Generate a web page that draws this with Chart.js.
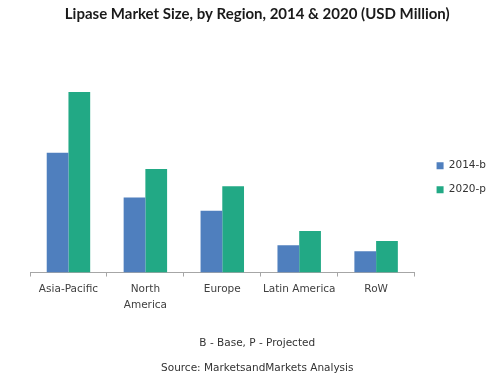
<!DOCTYPE html>
<html>
<head>
<meta charset="utf-8">
<script src="https://cdn.jsdelivr.net/npm/chart.js@4/dist/chart.umd.min.js"></script>
<style>
  html, body { margin: 0; padding: 0; background: #ffffff; }
  #wrap { width: 491px; height: 379px; position: relative; }
</style>
</head>
<body>
<div id="wrap"><canvas id="c"></canvas></div>
<script>
const categories = ['Asia-Pacific', ['North', 'America'], 'Europe', 'Latin America', 'RoW'];
const seriesNames = ['2014-b', '2020-p'];
const values2014 = [118, 74, 61, 27, 21];
const values2020 = [178, 102, 85, 41, 31];
const titleText = 'Lipase Market Size, by Region, 2014 & 2020 (USD Million)';
const footnotes = ['B - Base, P - Projected', 'Source: MarketsandMarkets Analysis'];

const labelFont = { family: 'DejaVu Sans', size: 10.5 };

new Chart(document.getElementById('c'), {
  type: 'bar',
  data: {
    labels: categories,
    datasets: [
      { label: seriesNames[0], data: values2014, backgroundColor: '#4f7fbe', borderWidth: 0, yAxisID: 'y' },
      { label: seriesNames[1], data: values2020, backgroundColor: '#22a985', borderWidth: 0, yAxisID: 'y' }
    ]
  },
  options: {
    responsive: true,
    maintainAspectRatio: false,
    animation: false,
    devicePixelRatio: 1,
    layout: { padding: { left: 18.5, right: -5, top: 0, bottom: -2.5 } },
    datasets: { bar: { categoryPercentage: 0.565, barPercentage: 1.0 } },
    scales: {
      x: {
        grid: { display: true, drawOnChartArea: false, drawTicks: true, tickLength: 4, color: '#a6a6a6', offset: true },
        border: { display: true, color: '#a6a6a6', width: 1 },
        ticks: { font: Object.assign({ lineHeight: 1.52 }, labelFont), color: '#404040', padding: 5, maxRotation: 0, autoSkip: false }
      },
      y: {
        display: true,
        min: 0,
        max: 187,
        grid: { display: false },
        border: { display: false },
        ticks: { display: false },
        afterFit: (s) => { s.width = 11.5; }
      },
      y2: {
        display: true,
        position: 'right',
        grid: { display: false },
        border: { display: false },
        ticks: { display: false },
        afterFit: (s) => { s.width = 8.5; }
      }
    },
    plugins: {
      legend: {
        position: 'right',
        align: 'center',
        fullSize: false,
        labels: {
          boxWidth: 7,
          boxHeight: 7,
          padding: 13.5,
          color: '#333333',
          font: labelFont
        }
      },
      title: {
        display: true,
        text: titleText,
        color: '#1a1a1a',
        font: { family: 'Lato', weight: 'bold', size: 15, lineHeight: 1.2 },
        padding: { top: 5, bottom: 59.8 }
      },
      subtitle: {
        display: true,
        position: 'bottom',
        text: footnotes,
        color: '#333333',
        font: { family: 'DejaVu Sans', size: 10.5, lineHeight: 2.44 },
        padding: { top: 11.8, bottom: 0 }
      },
      tooltip: { enabled: false }
    }
  }
});
</script>
</body>
</html>
